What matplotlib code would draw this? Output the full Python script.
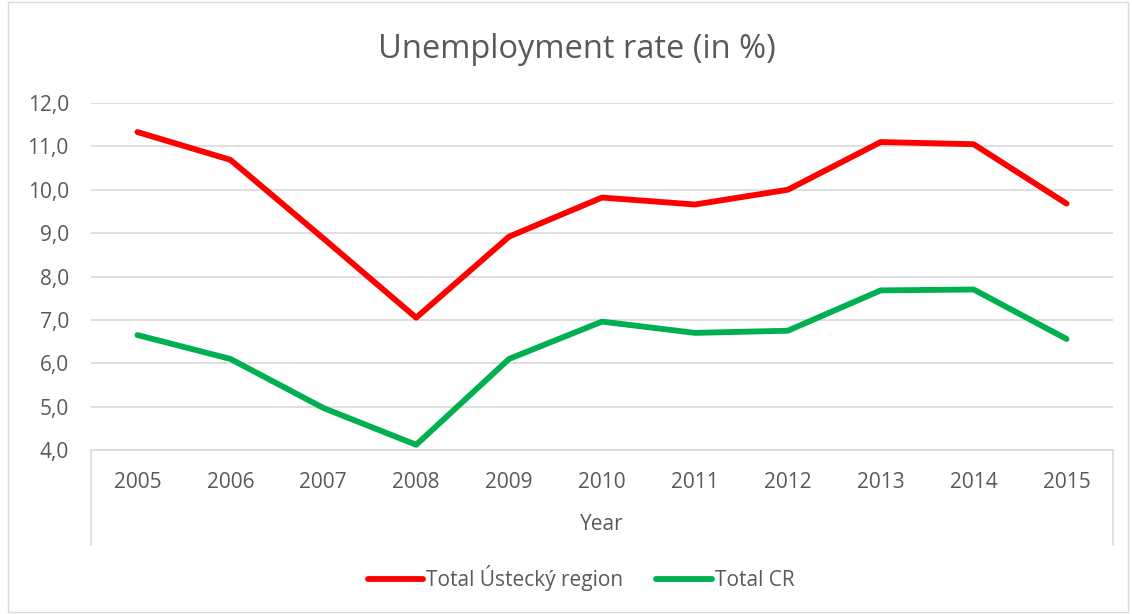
import matplotlib
matplotlib.use("Agg")
import matplotlib.pyplot as plt
from matplotlib.patches import Rectangle
from matplotlib.lines import Line2D

years = ["2005", "2006", "2007", "2008", "2009", "2010", "2011", "2012", "2013", "2014", "2015"]
usti = [11.33, 10.69, 8.88, 7.05, 8.92, 9.82, 9.66, 10.0, 11.1, 11.05, 9.68]
cr = [6.65, 6.10, 4.97, 4.12, 6.10, 6.96, 6.70, 6.75, 7.68, 7.70, 6.56]

W, H = 1132, 614
plt.rcParams['font.family'] = ['Open Sans', 'DejaVu Sans']
fig = plt.figure(figsize=(W / 100, H / 100), dpi=100)
fig.patch.set_facecolor("white")

# outer border
fig.patches.append(Rectangle((8 / W, 1 - 612 / H), (1128 - 8) / W, (612 - 2) / H,
                             transform=fig.transFigure, fill=False,
                             edgecolor="#d9d9d9", linewidth=1))

ax = fig.add_axes([91 / W, 1 - 450 / H, (1113 - 91) / W, (450 - 103) / H])
x = list(range(len(years)))
ax.plot(x, usti, color="#ff0000", linewidth=4.2, solid_capstyle="round", solid_joinstyle="round",
        label="Total Ústecký region")
ax.plot(x, cr, color="#00b050", linewidth=4.2, solid_capstyle="round", solid_joinstyle="round",
        label="Total CR")

ax.set_xlim(-0.5, len(years) - 0.5)
ax.set_ylim(4, 12)
ax.set_yticks([4, 5, 6, 7, 8, 9, 10, 11, 12])
ax.set_yticklabels([f"{v},0" for v in range(4, 13)])
ax.set_xticks(x)
ax.set_xticklabels(years)
for s in ["top", "right", "left"]:
    ax.spines[s].set_visible(False)
ax.spines["bottom"].set_color("#d9d9d9")
ax.spines["bottom"].set_linewidth(1.2)
ax.grid(axis="y", color="#d9d9d9", linewidth=1.2)
ax.set_axisbelow(True)
ax.tick_params(axis="both", length=0, labelsize=15, labelcolor="#595959")
ax.tick_params(axis="x", pad=16)
ax.tick_params(axis="y", pad=16)

# category box vertical lines
for xf in (91 / W, 1113 / W):
    fig.add_artist(Line2D([xf, xf], [1 - 450 / H, 1 - 545 / H], transform=fig.transFigure,
                          color="#d9d9d9", linewidth=1.2))

fig.text(602 / W, 1 - 525 / H, "Year", ha="center", va="center", fontsize=15, color="#595959")
fig.text(577 / W, 1 - 50 / H, "Unemployment rate (in %)", ha="center", va="center",
         fontsize=23.5, color="#595959")

leg = fig.legend(loc="center", bbox_to_anchor=(581 / W, 1 - 578 / H), ncol=2, frameon=False,
                 fontsize=15, handlelength=2.65, handletextpad=0.15, columnspacing=1.6)
for t in leg.get_texts():
    t.set_color("#595959")

fig.savefig("out.png", dpi=100)
